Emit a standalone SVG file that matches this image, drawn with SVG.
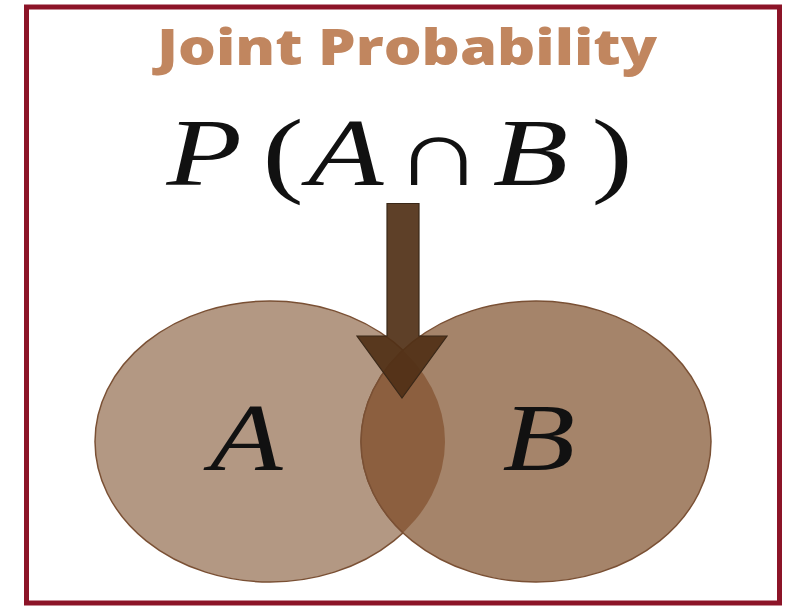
<svg xmlns="http://www.w3.org/2000/svg" width="792" height="607" viewBox="0 0 792 607">
<style>
.title{font-family:"Open Sans","Liberation Sans",sans-serif;font-weight:800;font-size:49px;fill:#C1865F}
.math{font-family:"Liberation Serif","DejaVu Serif",serif;font-size:95px;fill:#111}
.it{font-style:italic}
.set{stroke:#7A5034;stroke-width:1.5}
</style>
<defs>
<clipPath id="clipA"><ellipse cx="270" cy="441.5" rx="175" ry="140.5"/></clipPath>
</defs>
<rect x="26.5" y="7" width="753" height="596" fill="#fff" stroke="#8C1428" stroke-width="5"/>
<g id="title"><text class="title" x="157" y="65" textLength="500" lengthAdjust="spacingAndGlyphs">Joint Probability</text></g>
<g id="formula"><text class="math" transform="scale(1.3 1)" y="185"><tspan class="it" x="128">P</tspan><tspan x="202">(</tspan><tspan class="it" x="237">A</tspan><tspan x="303">∩</tspan><tspan class="it" x="379">B</tspan><tspan x="455">)</tspan></text></g>
<g id="setA"><ellipse class="set" cx="270" cy="441.5" rx="175" ry="140.5" fill="#B39883"/></g>
<g id="setB"><ellipse class="set" cx="536" cy="441.5" rx="175" ry="140.5" fill="#A5846A"/></g>
<g id="intersection"><ellipse clip-path="url(#clipA)" cx="536" cy="441.5" rx="175" ry="140.5" fill="#8C5F3F" stroke="#7A5034" stroke-width="1.5"/></g>
<g id="labelA"><text class="math it" transform="scale(1.25 1)" x="168" y="470" font-size="98">A</text></g>
<g id="labelB"><text class="math it" transform="scale(1.25 1)" x="402" y="470" font-size="98">B</text></g>
<g id="connectors"><path d="M387,203.5 H419 V336 H447 L402,398 L357,336 H387 Z" fill="#503016" fill-opacity="0.92" stroke="#3A2818" stroke-width="1.2"/></g>
</svg>
